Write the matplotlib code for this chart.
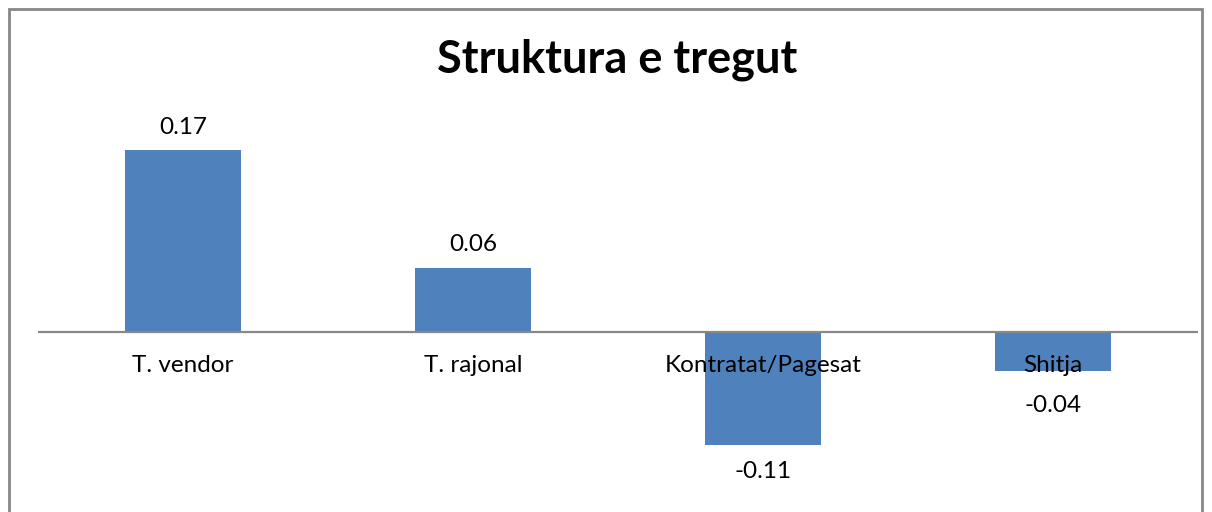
import matplotlib.pyplot as plt
from matplotlib.patches import Rectangle

plt.rcParams['font.family'] = ['Lato', 'DejaVu Sans']

categories = ['T. vendor', 'T. rajonal', 'Kontratat/Pagesat', 'Shitja']
values = [0.17, 0.06, -0.106, -0.036]
title = 'Struktura e tregut'

W, H = 1212, 512
fig = plt.figure(figsize=(W / 100, H / 100), dpi=100)
ax = fig.add_axes([38 / W, 12 / H, 1160 / W, 380 / H])

x = range(len(categories))
ax.bar(x, values, width=0.4, color='#4F81BD', zorder=2)
ax.set_xlim(-0.5, len(categories) - 0.5)
ax.set_ylim(-(500 - 332) / 1070, (332 - 120) / 1070)
ax.axhline(0, color='#888888', lw=1.6, zorder=3)
ax.axis('off')

# data labels (short negative bars get pushed below the category label)
for i, v in enumerate(values):
    if v > 0:
        off = 23
    elif v > -0.05:
        off = -35
    else:
        off = -26
    ax.annotate('%.2f' % v, (i, v), xytext=(0, off), textcoords='offset pixels',
                ha='center', va='center', fontsize=17.5, color='black')

# category labels sit just under the zero line, over the bars
for i, c in enumerate(categories):
    ax.annotate(c, (i, 0), xytext=(0, -34), textcoords='offset pixels',
                ha='center', va='center', fontsize=17.5, color='black', zorder=5)

fig.text(617 / W, 1 - 60 / H, title, ha='center', va='center',
         fontsize=32.5, fontweight='bold')

# chart border
fig.patches.append(Rectangle((9 / W, -0.1), 1193 / W, 1 - 9 / H + 0.1,
                             transform=fig.transFigure, fill=False,
                             edgecolor='#888888', lw=2))

plt.savefig('out.png', dpi=100)
